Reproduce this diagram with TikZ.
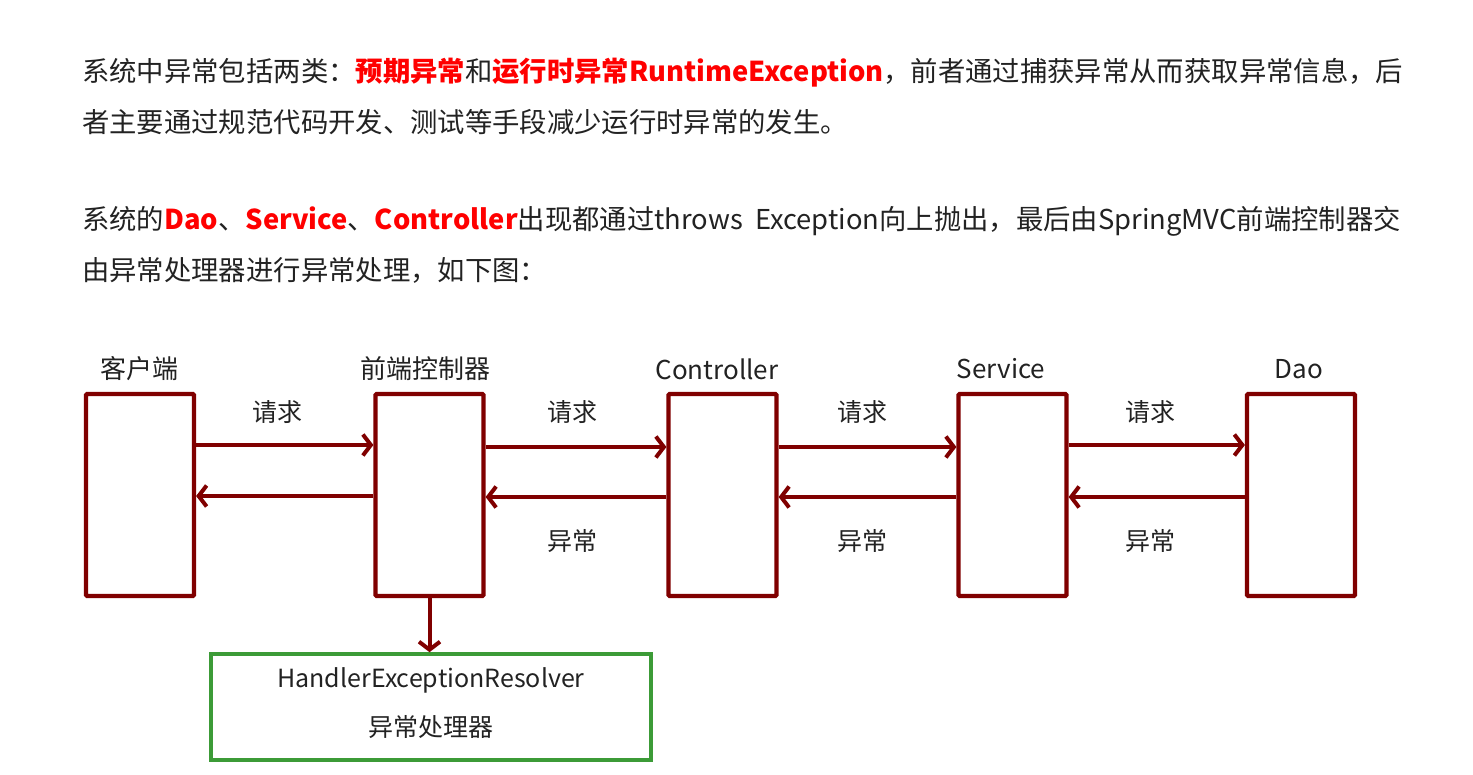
\documentclass[tikz,border=0pt]{standalone}
\usepackage{fontspec}
\setmainfont{Noto Sans CJK SC}
\usetikzlibrary{arrows.meta}
\definecolor{maroon}{RGB}{128,0,0}
\definecolor{grn}{RGB}{60,155,55}
\definecolor{txt}{RGB}{34,34,34}
\definecolor{hl}{RGB}{255,0,0}
\newcommand{\hlt}[1]{{\color{hl}\bfseries #1}}
\begin{document}
\begin{tikzpicture}[x=1pt,y=-1pt,
 para/.style={anchor=west,inner sep=0,text=txt,font=\fontsize{27.35}{32}\selectfont},
 box/.style={draw=maroon,line width=4.2pt,minimum width=108pt,minimum height=202pt,inner sep=0,rounded corners=1pt},
 gbox/.style={draw=grn,line width=3.6pt,minimum width=440pt,minimum height=106pt,inner sep=0},
 title/.style={text=txt,font=\fontsize{26}{30}\selectfont,inner sep=0},
 lbl/.style={text=txt,font=\fontsize{25}{30}\selectfont,inner sep=0},
 arr/.style={draw=maroon,line width=4pt,-{Straight Barb[length=8pt,width=21pt]}},
]
\useasboundingbox (0,0) rectangle (1473,775);
% paragraphs
\node[para] (p1) at (82,73) {系统中异常包括两类：\hlt{预期异常}和\hlt{运行时异常RuntimeException}，前者通过捕获异常从而获取异常信息，后};
\node[para] (p2) at (82,122) {者主要通过规范代码开发、测试等手段减少运行时异常的发生。};
\node[para] (p3) at (82,221) {系统的\hlt{Dao}、\hlt{Service}、\hlt{Controller}出现都通过throws\ \ Exception向上抛出，最后由SpringMVC前端控制器交};
\node[para] (p4) at (82,270) {由异常处理器进行异常处理，如下图：};
% boxes
\node[box] (c) at (140,495) {};
\node[box] (f) at (429.5,495) {};
\node[box] (k) at (722.5,495) {};
\node[box] (s) at (1012.5,495) {};
\node[box] (d) at (1301,495) {};
\node[title] (tc) at (139,369) {客户端};
\node[title] (tf) at (425,369) {前端控制器};
\node[title] (tk) at (717,369) {Controller};
\node[title] (ts) at (1001,369) {Service};
\node[title] (td) at (1299,369) {Dao};
% arrows
\draw[arr] ([yshift=50pt]c.east) -- ([yshift=50pt]f.west);
\draw[arr] ([yshift=-1pt]f.west) -- ([yshift=-1pt]c.east);
\draw[arr] ([yshift=48pt]f.east) -- ([yshift=48pt]k.west);
\draw[arr] ([yshift=-2pt]k.west) -- ([yshift=-2pt]f.east);
\draw[arr] ([yshift=48pt]k.east) -- ([yshift=48pt]s.west);
\draw[arr] ([yshift=-2pt]s.west) -- ([yshift=-2pt]k.east);
\draw[arr] ([yshift=50pt]s.east) -- ([yshift=50pt]d.west);
\draw[arr] ([yshift=-2pt]d.west) -- ([yshift=-2pt]s.east);
% labels
\node[lbl] (r1) at (277,412) {请求};
\node[lbl] (r2) at (572,412) {请求};
\node[lbl] (r3) at (862,412) {请求};
\node[lbl] (r4) at (1150,412) {请求};
\node[lbl] (e2) at (572,541) {异常};
\node[lbl] (e3) at (862,541) {异常};
\node[lbl] (e4) at (1150,541) {异常};
% handler
\node[gbox] (h) at (431,707) {};
\node[lbl] (h1) at (431,680) {HandlerExceptionResolver};
\node[lbl] (h2) at (431,727) {异常处理器};
\draw[arr] (f.south) -- (f.south |- h.north);
\end{tikzpicture}
\end{document}
